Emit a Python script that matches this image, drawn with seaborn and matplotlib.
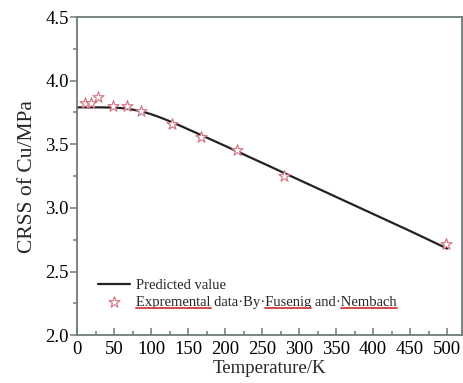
import numpy as np
import pandas as pd
import matplotlib
matplotlib.use("Agg")
import matplotlib.pyplot as plt
import seaborn as sns
from matplotlib.lines import Line2D

# ---- data ----
pred_T = [0, 30, 50, 60, 70, 80, 90, 100, 110, 120, 130, 140, 150, 175, 200,
          250, 300, 350, 400, 450, 500]
pred_crss = [3.790, 3.790, 3.788, 3.784, 3.777, 3.767, 3.754, 3.736, 3.716,
             3.693, 3.669, 3.644, 3.618, 3.553, 3.487, 3.354, 3.220, 3.086,
             2.952, 2.818, 2.680]
exp_T = [11, 19, 29, 48, 68, 87, 128, 168, 216, 280, 498]
exp_crss = [3.821, 3.821, 3.874, 3.797, 3.797, 3.763, 3.663, 3.560, 3.458, 3.252, 2.713]
label_pred = "Predicted value"
label_exp = "Expremental data\u00b7By\u00b7Fusenig and\u00b7Nembach"
xlabel = "Temperature/K"
ylabel = "CRSS of Cu/MPa"

sns.set_theme(style="ticks")
plt.rcParams["font.family"] = ["Liberation Serif", "DejaVu Serif"]

fig = plt.figure(figsize=(4.64, 3.83), dpi=100)
ax = fig.add_axes([0.166, 0.125, 0.9957 - 0.166, 0.9556 - 0.125])

df_pred = pd.DataFrame({"T": pred_T, "CRSS": pred_crss})
df_exp = pd.DataFrame({"T": exp_T, "CRSS": exp_crss})

sns.lineplot(data=df_pred, x="T", y="CRSS", ax=ax, color="#222222", lw=1.6,
             label=label_pred)
sns.scatterplot(data=df_exp, x="T", y="CRSS", ax=ax, marker="*", s=70,
                facecolor="white", edgecolor="#d0707e", linewidth=0.8,
                label=label_exp, zorder=3)

ax.set_xlim(0, 520)
ax.set_ylim(2.0, 4.5)
ax.set_xticks(np.arange(0, 501, 50))
ax.set_xticks(np.arange(0, 501, 25), minor=True)
ax.set_yticks(np.arange(2.0, 4.51, 0.5))
ax.set_yticks(np.arange(2.0, 4.51, 0.25), minor=True)
ax.yaxis.set_major_formatter(matplotlib.ticker.FormatStrFormatter("%.1f"))

spine_c = "#6f7b7b"
for s in ax.spines.values():
    s.set_color(spine_c)
    s.set_linewidth(1.3)
ax.tick_params(axis="both", which="both", colors=spine_c, labelcolor="black",
               labelsize=13.5, width=1.1)
ax.tick_params(axis="x", which="major", direction="in", length=5, pad=4)
ax.tick_params(axis="x", which="minor", direction="in", length=3)
ax.tick_params(axis="y", which="major", direction="out", length=5, pad=1)
ax.tick_params(axis="y", which="minor", direction="out", length=3)

ax.set_xlabel(xlabel, fontsize=13.5, labelpad=2)
ax.set_ylabel(ylabel, fontsize=15.5, labelpad=6)

leg = ax.legend(loc="lower left", bbox_to_anchor=(0.04, 0.065), frameon=False,
                fontsize=10.5, handlelength=2.2, handletextpad=0.4,
                labelspacing=0.2, borderaxespad=0)

# red spell-check underlines beneath selected words of the second label
fig.canvas.draw()
renderer = fig.canvas.get_renderer()
t = leg.get_texts()[1]
bb = t.get_window_extent(renderer)
full = t.get_text()
fp = t.get_fontproperties()

def width_of(s):
    tmp = fig.text(0, 0, s, fontproperties=fp)
    w = tmp.get_window_extent(renderer).width
    tmp.remove()
    return w

for word in ["Expremental", "Fusenig", "Nembach"]:
    i = full.index(word)
    x0 = bb.x0 + (width_of(full[:i]) if i > 0 else 0)
    x1 = bb.x0 + width_of(full[:i + len(word)])
    y = bb.y0 + 0.5
    fig.add_artist(Line2D([x0 / fig.bbox.width, x1 / fig.bbox.width],
                          [y / fig.bbox.height, y / fig.bbox.height],
                          transform=fig.transFigure, color="#d04a4a", lw=1.4))

fig.savefig("out.png", dpi=100)
